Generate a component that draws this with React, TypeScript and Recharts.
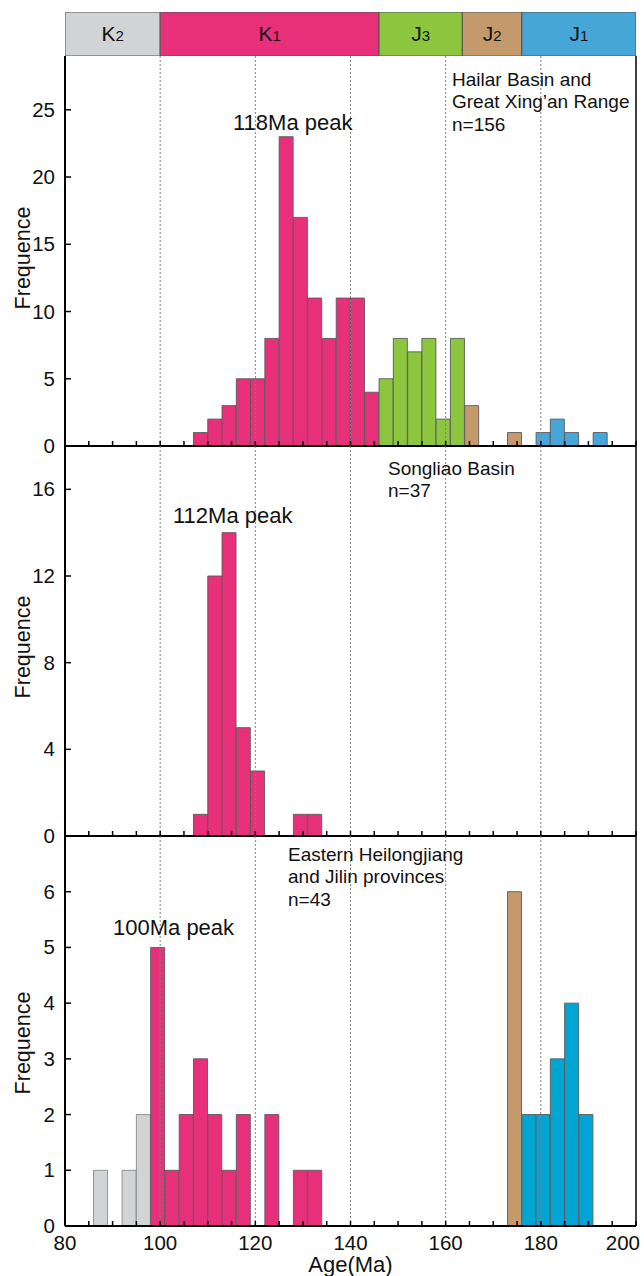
import React from 'react';
import { BarChart, Bar, XAxis, YAxis, Cell, ReferenceLine } from 'recharts';

const FONT = '"Liberation Sans", Arial, Helvetica, sans-serif';

// geological time scale (Ma)
const periodNames = ['K2', 'K1', 'J3', 'J2', 'J1'];
const periodEdges = [80, 100, 146, 163.5, 176, 200];

const palette: Record<string, string> = {
  K2: '#d1d3d4',
  K1: '#e8307a',
  J3: '#8cc63f',
  J2: '#c49a6c',
  J1: '#45a6d7',
};
const easternPalette: Record<string, string> = { ...palette, J1: '#00a5d4' };

const ageTicks = [80, 85, 90, 95, 100, 105, 110, 115, 120, 125, 130, 135, 140, 145, 150, 155, 160, 165, 170, 175, 180, 185, 190, 195, 200];
const guideAges = [100, 120, 140, 160, 180];

// Hailar Basin and Great Xing'an Range, n=156 (3 Ma bins, bin centres)
const hailarAges = [108.5, 111.5, 114.5, 117.5, 120.5, 123.5, 126.5, 129.5, 132.5, 135.5, 138.5, 141.5, 144.5, 147.5, 150.5, 153.5, 156.5, 159.5, 162.5, 165.5, 174.5, 180.5, 183.5, 186.5, 192.5];
const hailarCounts = [1, 2, 3, 5, 5, 8, 23, 17, 11, 8, 11, 11, 4, 5, 8, 7, 8, 2, 8, 3, 1, 1, 2, 1, 1];
const hailarPeriods = ['K1', 'K1', 'K1', 'K1', 'K1', 'K1', 'K1', 'K1', 'K1', 'K1', 'K1', 'K1', 'K1', 'J3', 'J3', 'J3', 'J3', 'J3', 'J3', 'J2', 'J2', 'J1', 'J1', 'J1', 'J1'];

// Songliao Basin, n=37
const songliaoAges = [108.5, 111.5, 114.5, 117.5, 120.5, 129.5, 132.5];
const songliaoCounts = [1, 12, 14, 5, 3, 1, 1];
const songliaoPeriods = ['K1', 'K1', 'K1', 'K1', 'K1', 'K1', 'K1'];

// Eastern Heilongjiang and Jilin provinces, n=43
const easternAges = [87.5, 93.5, 96.5, 99.5, 102.5, 105.5, 108.5, 111.5, 114.5, 117.5, 123.5, 129.5, 132.5, 174.5, 177.5, 180.5, 183.5, 186.5, 189.5];
const easternCounts = [1, 1, 2, 5, 1, 2, 3, 2, 1, 2, 2, 1, 1, 6, 2, 2, 3, 4, 2];
const easternPeriods = ['K2', 'K2', 'K2', 'K1', 'K1', 'K1', 'K1', 'K1', 'K1', 'K1', 'K1', 'K1', 'K1', 'J2', 'J1', 'J1', 'J1', 'J1', 'J1'];

const toRows = (ages: number[], counts: number[], periods: string[]) =>
  ages.map((age, i) => ({ age, count: counts[i], period: periods[i] }));

const bandRow = [
  periodNames.reduce(
    (row: any, name, i) => ({ ...row, [name]: periodEdges[i + 1] - periodEdges[i] }),
    { name: 'period', base: periodEdges[0] }
  ),
];

const PeriodLabel = ({ x, y, width, height, period }: any) => (
  <text x={x + width / 2} y={y + height / 2 + 7} textAnchor="middle" fontSize={21} fill="#111" fontFamily={FONT}>
    <tspan>{period[0]}</tspan>
    <tspan fontSize={15}>{period.slice(1)}</tspan>
  </text>
);

const AgeTick = ({ x, y, payload, labelled }: any) => {
  const v = payload.value;
  const last = v === 200;
  return (
    <g>
      <line x1={x} x2={x} y1={y} y2={y - 5} stroke="#000" strokeWidth={1.5} />
      {labelled && v % 20 === 0 && (
        <text x={last ? x + 4 : x} y={y + 24} textAnchor={last ? 'end' : 'middle'} fontSize={20.5} fill="#111" fontFamily={FONT}>
          {v}
        </text>
      )}
    </g>
  );
};

const CountTick = ({ x, y, payload }: any) => (
  <g>
    <line x1={x} x2={x + 6} y1={y} y2={y} stroke="#000" strokeWidth={1.5} />
    <text x={x - 10} y={y + 7} textAnchor="end" fontSize={20.5} fill="#111" fontFamily={FONT}>
      {payload.value}
    </text>
  </g>
);

const freqLabel = (shift: number) => (props: any) => {
  const vb = props.viewBox || {};
  const cx = 29.5;
  const cy = (vb.y || 0) + (vb.height || 0) / 2 + shift;
  return (
    <text x={cx} y={cy} transform={`rotate(-90 ${cx} ${cy})`} textAnchor="middle" fontSize={21.5} fill="#111" fontFamily={FONT}>
      Frequence
    </text>
  );
};

const ageLabel = (props: any) => {
  const vb = props.viewBox || {};
  return (
    <text x={(vb.x || 0) + (vb.width || 0) / 2} y={(vb.y || 0) + 46} textAnchor="middle" fontSize={22} fill="#111" fontFamily={FONT}>
      Age(Ma)
    </text>
  );
};

type PanelProps = {
  top: number;
  rows: { age: number; count: number; period: string }[];
  yMax: number;
  yTicks: number[];
  colors: Record<string, string>;
  labelShift: number;
  isBottom?: boolean;
};

const PLOT_H = 390;

const Panel = ({ top, rows, yMax, yTicks, colors, labelShift, isBottom }: PanelProps) => {
  const axisH = isBottom ? 50 : 14;
  return (
    <div style={{ position: 'absolute', left: 0, top }}>
      <BarChart
        width={644}
        height={PLOT_H + axisH}
        data={rows}
        margin={{ top: 0, right: 8, left: 0, bottom: 0 }}
        barCategoryGap={0}
        barGap={0}
        style={{ overflow: 'visible' }}
      >
        <XAxis
          dataKey="age"
          type="number"
          domain={[80, 200]}
          ticks={ageTicks}
          interval={0}
          tickSize={0}
          tickMargin={0}
          height={axisH}
          tickLine={false}
          axisLine={{ stroke: '#000', strokeWidth: 2 }}
          tick={(p: any) => <AgeTick {...p} labelled={isBottom} />}
          label={isBottom ? ageLabel : undefined}
          allowDataOverflow
        />
        <YAxis
          type="number"
          domain={[0, yMax]}
          ticks={yTicks}
          interval={0}
          width={65}
          tickSize={0}
          tickMargin={0}
          tickLine={false}
          axisLine={{ stroke: '#000', strokeWidth: 2 }}
          tick={(p: any) => <CountTick {...p} />}
          label={freqLabel(labelShift)}
          allowDataOverflow
        />
        <Bar dataKey="count" isAnimationActive={false}>
          {rows.map((r, i) => (
            <Cell
              key={`c-${i}`}
              fill={colors[r.period]}
              stroke={r.period === 'K2' ? '#8a8a8a' : '#5a5a5a'}
              strokeWidth={0.9}
            />
          ))}
        </Bar>
        {guideAges.map((a) => (
          <ReferenceLine key={a} x={a} stroke="#808080" strokeWidth={1} strokeDasharray="2 2" />
        ))}
        <ReferenceLine x={200} stroke="#000" strokeWidth={1.5} />
      </BarChart>
    </div>
  );
};

const notes = [
  { x: 233, y: 130, size: 22, lines: ['118Ma peak'] },
  { x: 452, y: 85.5, size: 19, lines: ['Hailar Basin and', 'Great Xing\u2019an Range', 'n=156'] },
  { x: 388, y: 474.5, size: 19, lines: ['Songliao Basin', 'n=37'] },
  { x: 173, y: 522.5, size: 22, lines: ['112Ma peak'] },
  { x: 288, y: 860.5, size: 19, lines: ['Eastern Heilongjiang', 'and Jilin provinces', 'n=43'] },
  { x: 113, y: 935, size: 22, lines: ['100Ma peak'] },
];

export default function App() {
  return (
    <div style={{ position: 'absolute', left: 0, top: 0, width: 644, height: 1276, background: '#fff', fontFamily: FONT }}>
      <div style={{ position: 'absolute', left: 0, top: 12 }}>
        <BarChart
          layout="vertical"
          width={644}
          height={44}
          data={bandRow}
          margin={{ top: 0, right: 8, left: 65, bottom: 0 }}
          barCategoryGap={0}
        >
          <XAxis type="number" domain={[80, 200]} hide allowDataOverflow />
          <YAxis type="category" dataKey="name" hide />
          <Bar dataKey="base" stackId="p" fill="none" stroke="none" isAnimationActive={false} />
          {periodNames.map((name) => (
            <Bar
              key={name}
              dataKey={name}
              stackId="p"
              fill={palette[name]}
              stroke="#555"
              strokeWidth={1}
              isAnimationActive={false}
              label={(p: any) => <PeriodLabel {...p} period={name} />}
            />
          ))}
        </BarChart>
      </div>

      <Panel top={56} rows={toRows(hailarAges, hailarCounts, hailarPeriods)} yMax={29} yTicks={[0, 5, 10, 15, 20, 25]} colors={palette} labelShift={7} />
      <Panel top={446} rows={toRows(songliaoAges, songliaoCounts, songliaoPeriods)} yMax={18} yTicks={[0, 4, 8, 12, 16]} colors={palette} labelShift={6} />
      <Panel top={836} rows={toRows(easternAges, easternCounts, easternPeriods)} yMax={7} yTicks={[0, 1, 2, 3, 4, 5, 6]} colors={easternPalette} labelShift={12} isBottom />

      <svg width={644} height={1276} style={{ position: 'absolute', left: 0, top: 0, pointerEvents: 'none' }}>
        {notes.map((n, i) => (
          <text key={i} x={n.x} y={n.y} fontSize={n.size} fill="#111" fontFamily={FONT}>
            {n.lines.map((line, j) => (
              <tspan key={j} x={n.x} dy={j === 0 ? 0 : 22.5}>
                {line}
              </tspan>
            ))}
          </text>
        ))}
      </svg>
    </div>
  );
}
